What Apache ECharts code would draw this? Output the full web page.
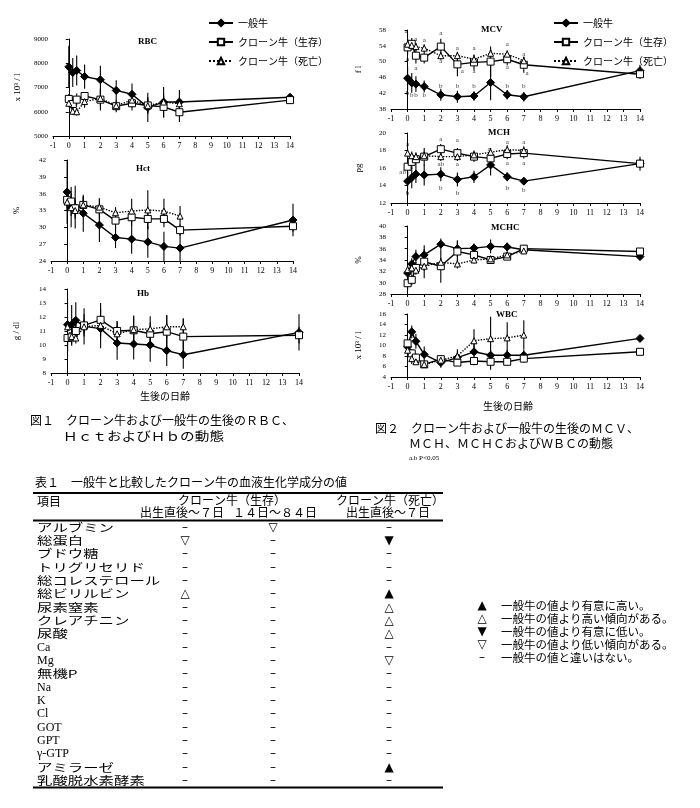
<!DOCTYPE html>
<html><head><meta charset="utf-8">
<script src="https://cdn.jsdelivr.net/npm/echarts@6/dist/echarts.min.js"></script>
<style>html,body{margin:0;padding:0;background:#fff}#c{width:700px;height:808px}</style>
</head><body><div id="c"></div>
<script>
const days = [0, 0.25, 0.5, 1, 2, 3, 4, 5, 6, 7, 14];
const groupNames = ['一般牛', 'クローン牛（生存）', 'クローン牛（死亡）'];

// RBC (x10^3/l)
const rbcGen = [7850, 7620, 7700, 7450, 7320, 6880, 6720, 6180, 6400, 6400, 6600];
const rbcGenSd = [870, 600, 620, 500, 580, 420, 450, 600, 620, 500, 60];
const rbcAlive = [6530, 6320, 6500, 6650, 6500, 6230, 6350, 6260, 6200, 5980, 6480];
const rbcAliveSd = [200, 250, 250, 150, 450, 250, 300, 350, 450, 400, 80];
const rbcDead = [6350, 6020, 6000, 6420, 6550, 6250, 6480, 6250, 6400, 6330];
const rbcDeadSd = [150, 150, 150, 250, 300, 200, 300, 300, 350, 300];
// Hct (%)
const hctGen = [36.3, 33.6, 33.6, 32.5, 30.4, 28.2, 27.9, 27.4, 26.6, 26.3, 31.3];
const hctGenSd = [5.7, 3.6, 3.8, 3.3, 3.0, 1.9, 2.6, 2.8, 2.6, 2.6, 2.9];
const hctAlive = [34.9, 34.6, 33.4, 34.0, 33.2, 31.2, 31.8, 31.5, 31.5, 29.5, 30.2];
const hctAliveSd = [1.5, 1.5, 1.5, 1.5, 2.0, 1.5, 1.5, 1.8, 1.5, 1.0, 1.0];
const hctDead = [34.5, 33.5, 33.0, 34.0, 33.6, 32.6, 32.9, 33.1, 32.9, 32.0];
const hctDeadSd = [1.5, 1.5, 1.5, 1.5, 1.5, 1.0, 2.2, 3.5, 2.2, 1.8];
// Hb (g/dl)
const hbGen = [11.45, 11.45, 11.76, 11.33, 11.17, 10.14, 10.07, 10.0, 9.6, 9.3, 10.9];
const hbGenSd = [1.9, 1.4, 1.3, 1.3, 1.4, 1.2, 1.1, 1.2, 1.1, 1.0, 1.3];
const hbAlive = [10.5, 10.55, 11.0, 11.4, 11.8, 11.0, 11.05, 10.8, 10.95, 10.6, 10.7];
const hbAliveSd = [1.0, 0.6, 0.6, 0.8, 1.2, 0.7, 1.0, 0.8, 1.2, 1.3, 0.6];
const hbDead = [11.3, 10.6, 10.5, 11.3, 11.4, 10.8, 11.1, 11.15, 11.3, 11.3];
const hbDeadSd = [0.4, 0.4, 0.4, 0.5, 0.5, 0.9, 1.0, 0.9, 0.8, 0.6];
// MCV (fl)
const mcvGen = [45.8, 44.6, 44.3, 43.7, 41.6, 41.1, 41.3, 44.7, 41.6, 41.1, 47.7];
const mcvGenSd = [3.0, 2.5, 2.0, 1.5, 1.5, 1.5, 1.2, 4.5, 1.2, 1.2, 1.5];
const mcvAlive = [53.6, 54.5, 51.5, 51.0, 53.8, 49.3, 49.8, 50.0, 50.6, 49.2, 46.8];
const mcvAliveSd = [2.0, 1.5, 2.0, 1.5, 2.0, 3.0, 2.0, 3.8, 1.5, 2.0, 1.2];
const mcvDead = [54.4, 54.1, 53.8, 53.4, 51.5, 51.5, 50.6, 52.1, 51.9, 50.2];
const mcvDeadSd = [1.5, 1.0, 1.0, 1.0, 1.0, 1.0, 1.0, 1.0, 1.0, 1.0];
// MCH (pg)
const mchGen = [14.5, 14.9, 15.3, 15.2, 15.3, 14.7, 15.0, 16.35, 15.0, 14.5, 16.5];
const mchGenSd = [1.0, 1.2, 1.0, 1.2, 0.8, 0.8, 0.7, 1.2, 0.5, 0.4, 0.8];
const mchAlive = [16.15, 16.7, 17.0, 17.3, 18.15, 17.7, 17.3, 17.1, 17.6, 17.7, 16.5];
const mchAliveSd = [0.9, 0.8, 0.7, 1.0, 0.6, 0.6, 0.6, 0.6, 0.6, 0.6, 0.5];
const mchDead = [17.7, 17.4, 17.3, 17.4, 17.3, 17.3, 17.5, 17.8, 18.1, 18.0];
const mchDeadSd = [0.5, 0.5, 0.5, 0.5, 0.5, 0.5, 0.5, 0.5, 0.5, 0.5];
// MCHC (%)
const mchcGen = [31.7, 33.3, 34.6, 34.9, 36.8, 36.0, 36.1, 36.4, 36.3, 35.8, 34.6];
const mchcGenSd = [1.0, 1.0, 1.2, 1.0, 1.0, 1.5, 0.8, 1.2, 0.8, 0.5, 0.3];
const mchcAlive = [29.9, 30.5, 32.6, 33.7, 32.9, 35.5, 34.9, 34.0, 34.6, 36.0, 35.5];
const mchcAliveSd = [1.2, 1.0, 1.0, 2.9, 2.9, 1.8, 0.8, 0.6, 0.6, 0.5, 0.3];
const mchcDead = [32.3, 32.6, 32.2, 32.9, 33.6, 33.3, 34.0, 34.2, 34.9, 35.6];
const mchcDeadSd = [0.8, 0.8, 0.8, 0.8, 0.8, 0.8, 0.6, 0.6, 0.6, 0.6];
// WBC (x10^3/l)
const wbcGen = [9.75, 12.6, 10.8, 8.3, 6.75, 7.7, 8.8, 8.15, 8.15, 8.15, 11.35];
const wbcGenSd = [1.2, 1.2, 1.4, 1.5, 1.0, 1.2, 1.5, 1.0, 1.0, 1.0, 0.3];
const wbcAlive = [10.4, 8.5, 7.7, 6.4, 7.4, 6.75, 7.05, 6.9, 6.9, 7.5, 8.8];
const wbcAliveSd = [0.8, 0.8, 0.8, 0.5, 0.8, 0.5, 0.8, 1.5, 0.6, 0.8, 0.3];
const wbcDead = [9.1, 7.5, 6.9, 6.4, 7.2, 8.0, 10.9, 11.3, 11.45, 12.0];
const wbcDeadSd = [1.0, 1.0, 0.6, 0.5, 0.8, 1.3, 2.2, 4.2, 3.0, 2.8];

// significance letters [day, value, letter]
const mcvMarks = [[-0.1,57.6,'a'],[0.25,58.2,'a'],[0.5,55.6,'a'],[1,55.4,'a'],[2,57.2,'a'],[3,53.4,'a'],[4,53.4,'a'],[5,52.6,'a'],[6,54.4,'a'],[7,51.9,'a'],
  [0,50.6,'a'],[0.5,48.3,'a'],[2,50.0,'a'],[3.3,47.5,'a'],[4,47.5,'a'],[6,48.6,'a'],[7.2,47.1,'a'],
  [0,42.0,'b'],[0.25,41.6,'b'],[0.5,41.6,'b'],[1,41.6,'b'],[2,43.9,'b'],[3,43.9,'b'],[4,43.9,'b'],[6,43.9,'b'],[7,43.9,'b']];
const mchMarks = [[0,18.7,'a'],[-0.3,15.5,'ab'],[0,13.1,'b'],[2,19.3,'a'],[2,16.4,'ab'],[2,13.65,'b'],[3,19.2,'a'],[3,16.4,'a'],[3,13.1,'b'],
  [4.9,18.1,'a'],[6,19.0,'a'],[6,16.5,'a'],[6,13.65,'b'],[7,19.0,'a'],[7,16.5,'a'],[7,13.5,'b']];

// table
const tableItems = ['アルブミン','総蛋白','ブドウ糖','トリグリセリド','総コレステロール','総ビリルビン','尿素窒素','クレアチニン','尿酸','Ca','Mg','無機P','Na','K','Cl','GOT','GPT','γ-GTP','アミラーゼ','乳酸脱水素酵素'];
const colAliveEarly = ['-','▽','-','-','-','△','-','-','-','-','-','-','-','-','-','-','-','-','-','-'];
const colAliveLate  = ['▽','-','-','-','-','-','-','-','-','-','-','-','-','-','-','-','-','-','-','-'];
const colDeadEarly  = ['-','▼','-','-','-','▲','△','△','△','-','▽','-','-','-','-','-','-','-','▲','-'];
const keySymbols = ['▲','△','▼','▽','-'];
const keyTexts = ['一般牛の値より有意に高い。','一般牛の値より高い傾向がある。','一般牛の値より有意に低い。','一般牛の値より低い傾向がある。','一般牛の値と違いはない。'];

const SERIF = 'Liberation Serif, DejaVu Serif, serif';
const JP = 'Noto Sans CJK JP, sans-serif';

const panels = [
  {t:'RBC', yName:'x 10³ / l', min:5000, max:9000, iv:1000, g:{left:53, top:39, width:237, height:97}, tp:[150,37], nameGap:31,
   s:[rbcGen, rbcGenSd, rbcAlive, rbcAliveSd, rbcDead, rbcDeadSd], marks:[]},
  {t:'Hct', yName:'%', min:24, max:42, iv:3, g:{left:51, top:160, width:242, height:101}, tp:[148,164], nameGap:30,
   s:[hctGen, hctGenSd, hctAlive, hctAliveSd, hctDead, hctDeadSd], marks:[]},
  {t:'Hb', yName:'g / dl', min:8, max:14, iv:1, g:{left:51, top:289, width:248, height:84}, tp:[149,289], nameGap:30,
   s:[hbGen, hbGenSd, hbAlive, hbAliveSd, hbDead, hbDeadSd], marks:[]},
  {t:'MCV', yName:'f l', min:38, max:58, iv:4, g:{left:391, top:30, width:249, height:79}, tp:[493,25], nameGap:28,
   s:[mcvGen, mcvGenSd, mcvAlive, mcvAliveSd, mcvDead, mcvDeadSd], marks:mcvMarks},
  {t:'MCH', yName:'pg', min:12, max:20, iv:2, g:{left:391, top:133, width:249, height:70}, tp:[500,128], nameGap:28,
   s:[mchGen, mchGenSd, mchAlive, mchAliveSd, mchDead, mchDeadSd], marks:mchMarks},
  {t:'MCHC', yName:'%', min:28, max:40, iv:2, g:{left:391, top:226, width:249, height:68}, tp:[503,223], nameGap:28,
   s:[mchcGen, mchcGenSd, mchcAlive, mchcAliveSd, mchcDead, mchcDeadSd], marks:[]},
  {t:'WBC', yName:'x 10³ / l', min:4, max:16, iv:2, g:{left:391, top:314, width:249, height:63}, tp:[508,310], nameGap:28,
   s:[wbcGen, wbcGenSd, wbcAlive, wbcAliveSd, wbcDead, wbcDeadSd], marks:[]}
];

const grid = [], xAxis = [], yAxis = [], series = [], graphic = [];
const styles = [
  {symbol:'diamond', size:8, fill:'#000', type:'solid'},
  {symbol:'rect', size:7, fill:'#fff', type:'solid'},
  {symbol:'triangle', size:6, fill:'#fff', type:'dotted'}
];

function errRender(params, api) {
  const cs = params.coordSys;
  const x = api.value(0);
  const p1 = api.coord([x, api.value(1)]);
  const p2 = api.coord([x, api.value(2)]);
  const cl = v => Math.max(cs.y, Math.min(cs.y + cs.height, v));
  return {type:'line', shape:{x1:p1[0], y1:cl(p1[1]), x2:p2[0], y2:cl(p2[1])}, style:{stroke:'#000', lineWidth:1.1}};
}

panels.forEach((p, i) => {
  grid.push(Object.assign({containLabel:false}, p.g));
  xAxis.push({type:'value', gridIndex:i, min:-1, max:14, interval:1,
    axisLine:{lineStyle:{color:'#000', width:1}}, axisTick:{length:3, lineStyle:{color:'#000'}},
    axisLabel:{fontSize:8, color:'#000', fontFamily:SERIF, margin:6, formatter: v => String(v)},
    splitLine:{show:false}});
  yAxis.push({type:'value', gridIndex:i, min:p.min, max:p.max, interval:p.iv,
    name:p.yName, nameLocation:'middle', nameGap:p.nameGap, nameRotate:90,
    nameTextStyle:{fontSize:9, color:'#000', fontFamily:SERIF},
    axisLine:{show:true, lineStyle:{color:'#000', width:1}}, axisTick:{show:true, length:3, lineStyle:{color:'#000'}},
    axisLabel:{fontSize:7, color:'#000', fontFamily:SERIF, margin:5, formatter: v => String(v)},
    splitLine:{show:false}});
  for (let k = 0; k < 3; k++) {
    const vals = p.s[k*2], sds = p.s[k*2+1], st = styles[k];
    series.push({type:'custom', xAxisIndex:i, yAxisIndex:i, silent:true, z:2, renderItem:errRender,
      encode:{x:0, y:[1,2]},
      data: vals.map((v, j) => [days[j], v - sds[j], v + sds[j]])});
    series.push({type:'line', name:groupNames[k], xAxisIndex:i, yAxisIndex:i, z:3,
      data: vals.map((v, j) => [days[j], v]), symbol:st.symbol, symbolSize:st.size, showAllSymbol:true,
      lineStyle:{color:'#000', width:1.4, type:st.type},
      itemStyle:{color:st.fill, borderColor:'#000', borderWidth:1}});
  }
  if (p.marks.length) {
    series.push({type:'scatter', xAxisIndex:i, yAxisIndex:i, symbolSize:0, z:4, silent:true,
      data:p.marks.map(m => [m[0], m[1], m[2]]),
      label:{show:true, position:'inside', formatter: d => d.value[2], fontSize:7, color:'#000', fontFamily:SERIF}});
  }
  graphic.push({type:'text', left:p.tp[0]-12, top:p.tp[1], style:{text:p.t, font:'bold 9px Liberation Serif', fill:'#000'}});
});

// text helper
function txt(x, y, text, font, opts) {
  opts = opts || {};
  graphic.push({type:'text', x:x, y:y, scaleX: opts.sx || 1,
    style:{text:text, font:font, fill:'#000', textAlign: opts.align || 'left', textVerticalAlign:'middle'}});
}
const F12 = '12px Noto Sans CJK JP';
txt(140, 396, '生後の日齢', '10px Noto Sans CJK JP');
txt(483, 406, '生後の日齢', '10px Noto Sans CJK JP');
txt(30, 420, '図１　クローン牛および一般牛の生後のＲＢＣ、', F12);
txt(63, 436, 'ＨｃｔおよびＨｂの動態', F12, {sx:1.22});
txt(375, 428, '図２　クローン牛および一般牛の生後のＭＣＶ、', F12);
txt(409, 443, 'ＭＣＨ、ＭＣＨＣおよびＷＢＣの動態', F12);
txt(409, 458, 'a.b P<0.05', '7px Liberation Serif');

// table
txt(35, 482, '表１　一般牛と比較したクローン牛の血液生化学成分の値', F12);
const hl = (x1, x2, y, w) => graphic.push({type:'line', shape:{x1:x1, y1:y, x2:x2, y2:y}, style:{stroke:'#000', lineWidth:w}});
hl(33, 443, 493, 2);
hl(33, 443, 520.5, 2);
hl(33, 443, 787.5, 2);
txt(37, 501, '項目', F12);
txt(232, 500, 'クローン牛（生存）', F12, {align:'center'});
txt(390, 500, 'クローン牛（死亡）', F12, {align:'center'});
txt(182, 512.5, '出生直後～７日', F12, {align:'center'});
txt(275, 512.5, '１４日～８４日', F12, {align:'center'});
txt(388, 512.5, '出生直後～７日', F12, {align:'center'});
const cols = [[185, colAliveEarly], [273, colAliveLate], [389, colDeadEarly]];
tableItems.forEach((name, r) => {
  const y = 527.5 + r * 13.33;
  const latin = /^[A-Za-zγ\-]+$/.test(name);
  if (latin) txt(37, y, name, '12px Liberation Serif');
  else txt(37, y, name, '11px Noto Sans CJK JP', {sx:1.4});
  cols.forEach(c => {
    const v = c[1][r];
    txt(c[0], y, v === '-' ? '–' : v, '12px DejaVu Sans', {align:'center'});
  });
});
keySymbols.forEach((s, r) => {
  const y = 606 + r * 13;
  txt(482, y, s === '-' ? '–' : s, '12px DejaVu Sans', {align:'center'});
  txt(501, y, keyTexts[r], '11.5px Noto Sans CJK JP');
});

const legendBase = {orient:'vertical', itemWidth:24, itemHeight:8, itemGap:9, data:groupNames,
  textStyle:{fontSize:10, color:'#000', fontFamily:JP}, selectedMode:false};

const chart = echarts.init(document.getElementById('c'), null, {renderer:'canvas'});
chart.setOption({
  animation:false,
  backgroundColor:'#fff',
  legend:[Object.assign({left:203, top:13}, legendBase), Object.assign({left:548, top:13}, legendBase)],
  grid, xAxis, yAxis, series, graphic
});
</script></body></html>
